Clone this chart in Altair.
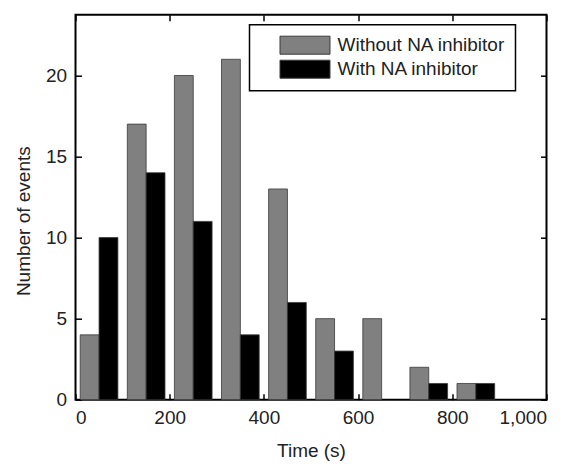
import altair as alt
import pandas as pd

# ---- data ----
bin_starts = [0, 100, 200, 300, 400, 500, 600, 700, 800]
without_counts = [4, 17, 20, 21, 13, 5, 5, 2, 1]
with_counts = [10, 14, 11, 4, 6, 3, 0, 1, 1]
series_names = ["Without NA inhibitor", "With NA inhibitor"]
series_colors = ["#808080", "#000000"]
series_offsets = [10, 50]
bar_width = 40
x_ticks = [0, 200, 400, 600, 800, 1000]
y_ticks = [0, 5, 10, 15, 20]

rows = []
for name, counts, off in zip(series_names, [without_counts, with_counts], series_offsets):
    for b, c in zip(bin_starts, counts):
        if c > 0:
            rows.append({"series": name, "x0": b + off, "x1": b + off + bar_width, "count": c})
df = pd.DataFrame(rows)

W, H = 471, 385
FONT = "Liberation Sans"
TXT = "#222222"

xs = alt.Scale(domain=[0, 1000], nice=False)
ys = alt.Scale(domain=[0, 23.75], nice=False)

base = alt.Chart(df)

bars = base.mark_rect(stroke="#3a3a3a", strokeWidth=0.8).encode(
    x=alt.X("x0:Q", scale=xs, axis=alt.Axis(
        values=x_ticks, format=",.0f", ticks=False, domain=False, grid=False,
        labelPadding=9, title="Time (s)", titlePadding=14)),
    x2="x1:Q",
    y=alt.Y("count:Q", scale=ys, axis=alt.Axis(
        values=y_ticks, format="d", ticks=False, domain=False, grid=False,
        labelPadding=9, title="Number of events", titlePadding=12, titleY=206)),
    y2=alt.datum(0),
    color=alt.Color("series:N",
                    scale=alt.Scale(domain=series_names, range=series_colors),
                    legend=alt.Legend(
                        title=None, orient="none", legendX=174, legendY=10,
                        symbolType="M-2.5,-0.9L2.5,-0.9L2.5,0.9L-2.5,0.9Z",
                        symbolSize=400, symbolStrokeColor="#3a3a3a",
                        symbolStrokeWidth=1, symbolOffset=35, labelOffset=22,
                        padding=10, rowPadding=1, labelLimit=400,
                        labelExpr="datum.label + '\u00a0\u00a0\u00a0\u00a0'")),
)

tick_axis = dict(labels=False, domain=False, grid=False, ticks=True, tickSize=6,
                 tickColor="black", tickWidth=1.5, title=None)

ticks_a = base.mark_rect(opacity=0).encode(
    x=alt.X("x0:Q", scale=xs, axis=alt.Axis(orient="top", offset=-H, values=x_ticks, **tick_axis)),
    x2="x1:Q",
    y=alt.Y("count:Q", scale=ys, axis=alt.Axis(orient="right", offset=-W, values=y_ticks, **tick_axis)),
    y2=alt.datum(0),
)
ticks_b = base.mark_rect(opacity=0).encode(
    x=alt.X("x0:Q", scale=xs, axis=alt.Axis(orient="bottom", offset=-H, values=x_ticks, **tick_axis)),
    x2="x1:Q",
    y=alt.Y("count:Q", scale=ys, axis=alt.Axis(orient="left", offset=-W, values=y_ticks, **tick_axis)),
    y2=alt.datum(0),
)

chart = alt.layer(bars, ticks_a, ticks_b).resolve_axis(
    x="independent", y="independent"
).properties(
    width=W, height=H,
    autosize=alt.AutoSizeParams(type="none"),
    padding={"left": 67.5, "top": 6.7, "right": 15, "bottom": 64},
).configure_view(
    stroke="black", strokeWidth=2
).configure_axis(
    labelFont=FONT, labelFontSize=19, labelColor=TXT,
    titleFont=FONT, titleFontSize=19, titleColor=TXT, titleFontWeight="normal",
).configure_legend(
    labelFont=FONT, labelFontSize=19, labelColor=TXT,
    strokeColor="black", strokeWidth=1.5, fillColor="white",
)

chart.save("out.html", embed_options={"renderer": "svg", "actions": False})
